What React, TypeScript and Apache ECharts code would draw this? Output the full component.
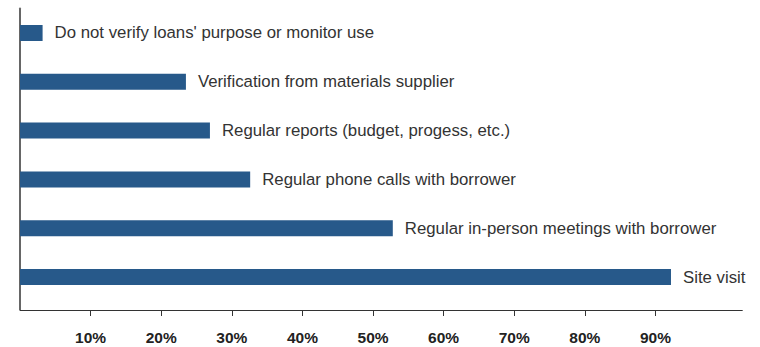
import React, { useEffect, useRef } from "react";
import * as echarts from "echarts";

const categories = [
  "Do not verify loans' purpose or monitor use",
  "Verification from materials supplier",
  "Regular reports (budget, progess, etc.)",
  "Regular phone calls with borrower",
  "Regular in-person meetings with borrower",
  "Site visit",
];
const values = [3.2, 23.5, 26.9, 32.6, 52.8, 92.2];
const tickValues = [10, 20, 30, 40, 50, 60, 70, 80, 90];

export default function App() {
  const ref = useRef<HTMLDivElement>(null);
  useEffect(() => {
    if (!ref.current) return;
    const chart = echarts.init(ref.current, undefined, { renderer: "svg" });
    chart.setOption({
      animation: false,
      grid: { left: 20, right: 17.7, top: 8.5, bottom: 45.5, containLabel: false },
      xAxis: {
        type: "value",
        min: 0,
        max: 102.3,
        interval: 10,
        offset: 8.5,
        axisLine: { show: true, lineStyle: { color: "#333", width: 1 } },
        axisTick: {
          show: true,
          length: 6,
          customValues: tickValues,
          lineStyle: { color: "#333", width: 1 },
        },
        axisLabel: {
          customValues: tickValues,
          formatter: "{value}%",
          margin: 19,
          color: "#222",
          fontSize: 15.5,
          fontWeight: "bold",
          fontFamily: "Liberation Sans, Arial, sans-serif",
        },
        splitLine: { show: false },
      },
      yAxis: {
        type: "category",
        data: categories,
        inverse: true,
        axisLine: { show: true, lineStyle: { color: "#666", width: 2 } },
        axisTick: { show: false },
        axisLabel: { show: false },
      },
      series: [
        {
          type: "bar",
          data: values,
          barWidth: 16,
          itemStyle: { color: "#27598a" },
          label: {
            show: true,
            position: "right",
            distance: 12,
            formatter: (p: any) => categories[p.dataIndex],
            color: "#333",
            fontSize: 16.8,
            fontFamily: "Liberation Sans, Arial, sans-serif",
          },
        },
      ],
      graphic: [
        {
          type: "line",
          shape: { x1: 20, y1: 300, x2: 20, y2: 310 },
          style: { stroke: "#666", lineWidth: 2 },
          z: 10,
        },
      ],
    });
    return () => chart.dispose();
  }, []);
  return (
    <div
      ref={ref}
      style={{ position: "fixed", left: 0, top: 0, width: 760, height: 347, background: "#fff" }}
    />
  );
}
